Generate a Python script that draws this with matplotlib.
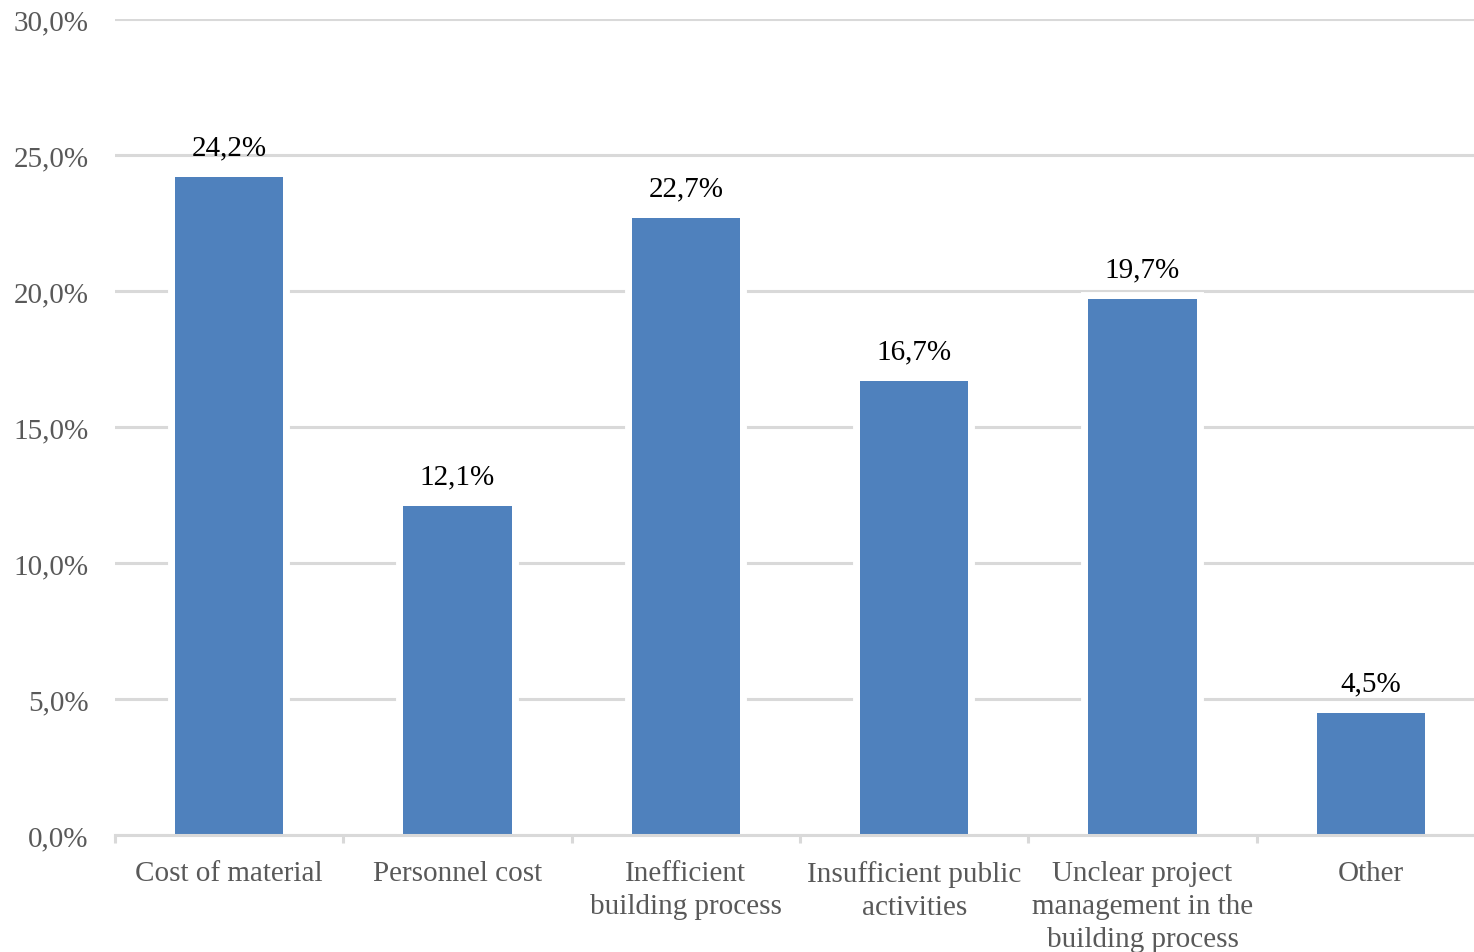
import matplotlib
matplotlib.use("Agg")
import matplotlib.pyplot as plt
import matplotlib.patheffects as pe
import numpy as np

categories = [
    "Cost of material",
    "Personnel cost",
    "Inefficient\nbuilding process",
    "Insufficient public\nactivities",
    "Unclear project\nmanagement in the\nbuilding process",
    "Other",
]
shares = [24.2, 12.1, 22.7, 16.7, 19.7, 4.5]
y_ticks = [0, 5, 10, 15, 20, 25, 30]

plt.rcParams["font.family"] = ["Liberation Serif", "DejaVu Serif"]

W, H = 1474, 953
fig = plt.figure(figsize=(W / 100, H / 100), dpi=100)
left, right, top, bottom = 115, 1485, 20, 836
ax = fig.add_axes([left / W, 1 - bottom / H, (right - left) / W, (bottom - top) / H])

x = np.arange(len(categories))
bars = ax.bar(x, shares, width=0.474, color="#4F81BD", zorder=3)
for b in bars:
    b.set_path_effects([pe.withStroke(linewidth=10, foreground="white"), pe.Normal()])

ax.set_xlim(-0.5, len(categories) - 0.5)
ax.set_ylim(0, 30)
ax.set_yticks(y_ticks)
ax.set_yticklabels([f"{v:.1f}%".replace(".", ",") for v in y_ticks])
ax.yaxis.grid(True, color="#D9D9D9", linewidth=2.2, zorder=0)
ax.set_axisbelow(True)

for s in ["top", "right", "left"]:
    ax.spines[s].set_visible(False)
ax.spines["bottom"].set_color("#D9D9D9")
ax.spines["bottom"].set_linewidth(2.2)
ax.spines["bottom"].set_zorder(5)

ax.set_xticks(x)
ax.set_xticklabels(categories, linespacing=1.36)
ax.set_xticks(np.arange(-0.5, len(categories)), minor=True)
ax.tick_params(axis="x", which="major", length=0, pad=18, labelsize=21, labelcolor="#595959")
ax.tick_params(axis="x", which="minor", length=6, width=2.2, color="#D9D9D9")
ax.tick_params(axis="y", length=0, pad=19, labelsize=21, labelcolor="#595959")

for xi, v in zip(x, shares):
    ax.annotate(f"{v:.1f}%".replace(".", ","), (xi, v), xytext=(0, 12),
                textcoords="offset points", ha="center", va="bottom",
                fontsize=21, color="black", zorder=6)

fig.savefig("out.png", dpi=100, facecolor="white")
